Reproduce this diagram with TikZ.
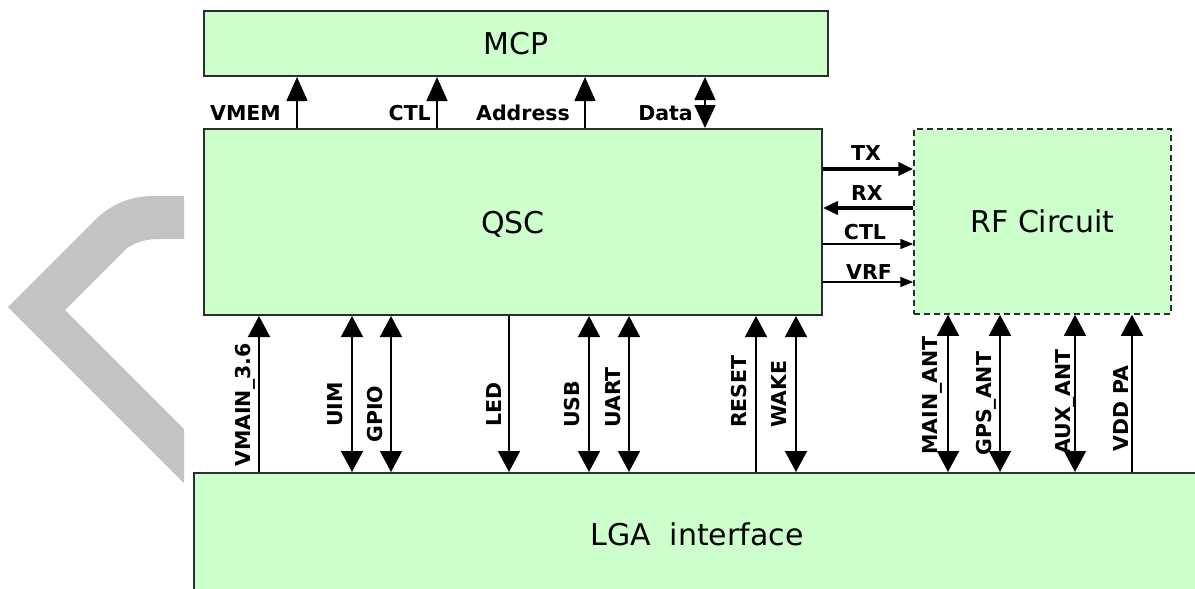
\documentclass[tikz,border=0pt]{standalone}
\usepackage{fontspec}
\setmainfont{DejaVu Sans}
\usetikzlibrary{arrows.meta}
\definecolor{boxgreen}{RGB}{204,255,204}
\definecolor{chev}{RGB}{195,195,195}
\definecolor{edgecol}{RGB}{45,45,45}
\begin{document}
\begin{tikzpicture}[x=1pt,y=-1pt,
  blockbox/.style={draw=edgecol, line width=2pt, fill=boxgreen, inner sep=0pt,
    font=\fontsize{30}{36}\selectfont, text height=22pt, text depth=0pt},
  titletext/.style={inner sep=0pt, font=\fontsize{30}{36}\selectfont, text height=22pt, text depth=0pt},
  sig/.style={font=\bfseries\fontsize{20.5}{24}\selectfont, inner sep=0pt},
  vlab/.style={sig, rotate=90, anchor=base west},
  wire/.style={line width=1.5pt, draw=black},
  vtip/.style={wire, -{Triangle[length=21pt,width=22pt]}},
  vtips/.style={wire, {Triangle[length=21pt,width=22pt]}-{Triangle[length=21pt,width=22pt]}},
  ttip/.style={wire, -{Triangle[length=24pt,width=21pt]}},
  ttips/.style={wire, {Triangle[length=23pt,width=21pt]}-{Triangle[length=23pt,width=21pt]}},
  thickwire/.style={line width=4.5pt, draw=black, -{Triangle[length=15pt,width=13pt]}},
  thinwire/.style={line width=1.5pt, draw=black, -{Triangle[length=13pt,width=10pt]}}
]
\useasboundingbox (0,0) rectangle (1195,589);

% grey chevron
\fill[chev] (184,196) -- (150,196) .. controls (128,197) and (112,205) .. (98,217)
  -- (8,307) -- (184,483) -- (184,429) -- (65,310) -- (127,248)
  .. controls (138,241) and (148,239) .. (160,239) -- (184,239) -- cycle;

% blocks
\node[blockbox, minimum width=624pt, minimum height=65pt] (mcp) at (516,43.5) {MCP};
\node[blockbox, minimum width=618pt, minimum height=186pt] (qsc) at (513,222) {QSC};
\node[blockbox, line width=1.5pt, dash pattern=on 6pt off 4pt, minimum width=257pt, minimum height=185pt] (rf) at (1042.5,221.5) {RF Circuit};
\node[blockbox, minimum width=1012pt, minimum height=134pt] (lga) at (700,540) {};
\node[titletext] (lgatext) at (697,534) {LGA\ \ interface};

% x positions of the vertical signals
\coordinate (cVMEM) at (297,0);
\coordinate (cCTLt) at (437,0);
\coordinate (cADDR) at (585,0);
\coordinate (cDATA) at (705,0);
\coordinate (cVMAIN) at (259,0);
\coordinate (cUIM) at (352,0);
\coordinate (cGPIO) at (391,0);
\coordinate (cLED) at (509,0);
\coordinate (cUSB) at (589,0);
\coordinate (cUART) at (629,0);
\coordinate (cRESET) at (756,0);
\coordinate (cWAKE) at (796,0);
\coordinate (cMAIN) at (948,0);
\coordinate (cGPS) at (1000,0);
\coordinate (cAUX) at (1075,0);
\coordinate (cVDD) at (1132,0);
% y positions of the horizontal signals
\coordinate (yTX) at (0,169);
\coordinate (yRX) at (0,208);
\coordinate (yCTL) at (0,244);
\coordinate (yVRF) at (0,282);

% QSC -> MCP
\draw[ttip] (qsc.north -| cVMEM) -- (mcp.south -| cVMEM);
\draw[ttip] (qsc.north -| cCTLt) -- (mcp.south -| cCTLt);
\draw[ttip] (qsc.north -| cADDR) -- (mcp.south -| cADDR);
\draw[ttips] (qsc.north -| cDATA) -- (mcp.south -| cDATA);
\node[sig, anchor=base east] (lVMEM) at (281,120) {VMEM};
\node[sig, anchor=base east] (lCTLt) at (431,120) {CTL};
\node[sig, anchor=base east] (lADDR) at (570,120) {Address};
\node[sig, anchor=base east] (lDATA) at (693,120) {Data};

% QSC <-> RF
\draw[thickwire] (qsc.east |- yTX) -- (rf.west |- yTX);
\draw[thickwire] (rf.west |- yRX) -- (qsc.east |- yRX);
\draw[thinwire] (qsc.east |- yCTL) -- (rf.west |- yCTL);
\draw[thinwire] (qsc.east |- yVRF) -- (rf.west |- yVRF);
\node[sig, anchor=base] (lTX) at (866,160) {TX};
\node[sig, anchor=base] (lRX) at (867,200) {RX};
\node[sig, anchor=base] (lCTLr) at (865,239) {CTL};
\node[sig, anchor=base] (lVRF) at (869,279) {VRF};

% LGA <-> QSC / RF
\draw[vtip]  (lga.north -| cVMAIN) -- (qsc.south -| cVMAIN);
\draw[vtips] (lga.north -| cUIM) -- (qsc.south -| cUIM);
\draw[vtips] (lga.north -| cGPIO) -- (qsc.south -| cGPIO);
\draw[vtip]  (qsc.south -| cLED) -- (lga.north -| cLED);
\draw[vtips] (lga.north -| cUSB) -- (qsc.south -| cUSB);
\draw[vtips] (lga.north -| cUART) -- (qsc.south -| cUART);
\draw[vtip]  (lga.north -| cRESET) -- (qsc.south -| cRESET);
\draw[vtips] (lga.north -| cWAKE) -- (qsc.south -| cWAKE);
\draw[vtips] (lga.north -| cMAIN) -- (rf.south -| cMAIN);
\draw[vtips] (lga.north -| cGPS) -- (rf.south -| cGPS);
\draw[vtips] (lga.north -| cAUX) -- (rf.south -| cAUX);
\draw[vtip]  (lga.north -| cVDD) -- (rf.south -| cVDD);

\node[vlab] (lVMAIN) at (250,467) {VMAIN\_3.6};
\node[vlab] (lUIM) at (342,427) {UIM};
\node[vlab] (lGPIO) at (382,443) {GPIO};
\node[vlab] (lLED) at (501,427) {LED};
\node[vlab] (lUSB) at (579,428) {USB};
\node[vlab] (lUART) at (620,428) {UART};
\node[vlab] (lRESET) at (746,428) {RESET};
\node[vlab] (lWAKE) at (786,428) {WAKE};
\node[vlab] (lMAIN) at (937,455) {MAIN\_ANT};
\node[vlab] (lGPS) at (991,456) {GPS\_ANT};
\node[vlab] (lAUX) at (1070,455) {AUX\_ANT};
\node[vlab] (lVDD) at (1128,452) {VDD PA};
\end{tikzpicture}
\end{document}
